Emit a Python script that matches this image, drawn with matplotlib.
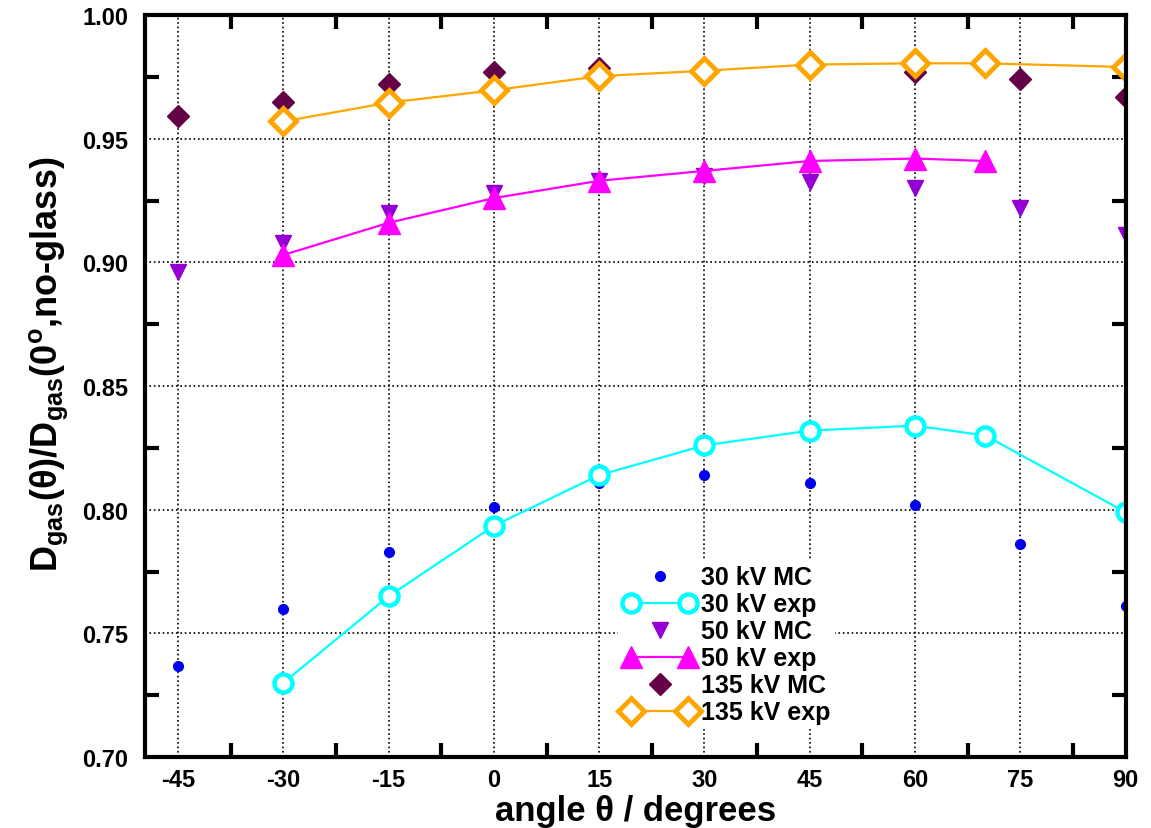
import numpy as np
import matplotlib
matplotlib.use("Agg")
import matplotlib.pyplot as plt
from matplotlib.legend_handler import HandlerLine2D
from matplotlib.ticker import FixedLocator

plt.rcParams['font.family'] = ['Liberation Sans', 'DejaVu Sans']
plt.rcParams['font.weight'] = 'bold'
plt.rcParams['mathtext.fontset'] = 'custom'
plt.rcParams['mathtext.rm'] = 'Liberation Sans:bold'
plt.rcParams['mathtext.it'] = 'Liberation Sans:bold'
plt.rcParams['mathtext.bf'] = 'Liberation Sans:bold'

# -----------------------------
# Data
# -----------------------------
ang_mc = [-45, -30, -15, 0, 15, 30, 45, 60, 75, 90]
ang_exp = [-30, -15, 0, 15, 30, 45, 60, 70, 90]
ang_exp50 = [-30, -15, 0, 15, 30, 45, 60, 70]

mc_30 = [0.737, 0.760, 0.783, 0.801, 0.811, 0.814, 0.811, 0.802, 0.786, 0.761]
exp_30 = [0.730, 0.765, 0.7935, 0.814, 0.826, 0.832, 0.834, 0.830, 0.799]

mc_50 = [0.896, 0.908, 0.920, 0.928, 0.933, 0.935, 0.9325, 0.930, 0.922, 0.911]
exp_50 = [0.903, 0.916, 0.926, 0.933, 0.937, 0.941, 0.942, 0.941]

mc_135 = [0.959, 0.965, 0.972, 0.977, 0.9785, 0.978, 0.979, 0.977, 0.974, 0.967]
exp_135 = [0.957, 0.9646, 0.9696, 0.9753, 0.9775, 0.980, 0.9805, 0.9805, 0.979]

xticks = [-45, -30, -15, 0, 15, 30, 45, 60, 75, 90]
yticks = [0.70, 0.75, 0.80, 0.85, 0.90, 0.95, 1.00]

# -----------------------------
# Plot
# -----------------------------
fig = plt.figure(figsize=(11.51, 8.29), dpi=100)
ax = fig.add_axes([0.126, 0.0856, 0.852, 0.895])

ax.plot(ang_mc, mc_30, ls='none', marker='o', ms=7, color='#0000ee',
        label='30 kV MC')
ax.plot(ang_exp, exp_30, '-', color='#00ffff', lw=1.6, marker='o', ms=13,
        mfc='white', mec='#00ffff', mew=3.2, label='30 kV exp')
ax.plot(ang_mc, mc_50, ls='none', marker='v', ms=12, color='#9400d3',
        label='50 kV MC')
ax.plot(ang_exp50, exp_50, '-', color='#ff00ff', lw=1.6, marker='^', ms=16,
        mfc='#ff00ff', mec='#ff00ff', label='50 kV exp')
ax.plot(ang_mc, mc_135, ls='none', marker='D', ms=11, color='#640046',
        label='135 kV MC')
ax.plot(ang_exp, exp_135, '-', color='#ffa500', lw=1.6, marker='D', ms=13,
        mfc='white', mec='#ffa500', mew=3.5, label='135 kV exp')

ax.set_xlim(-49.7, 90)
ax.set_ylim(0.70, 1.00)

ax.set_xticks(xticks)
ax.set_yticks(yticks)
ax.set_xticklabels([str(v) for v in xticks])
ax.set_yticklabels([f"{v:.2f}" for v in yticks])
ax.xaxis.set_minor_locator(FixedLocator(np.arange(-37.5, 90, 15)))
ax.yaxis.set_minor_locator(FixedLocator(np.arange(0.725, 1.0, 0.05)))

ax.tick_params(which='major', length=0, labelsize=17, pad=8)
ax.tick_params(axis='y', which='major', pad=12)
ax.tick_params(which='minor', direction='in', length=10, width=3,
               top=True, right=True)
for s in ax.spines.values():
    s.set_linewidth(3)

ax.grid(True, which='major', ls=':', color='black', lw=1.2)

ax.set_xlabel('angle θ / degrees', fontsize=25, fontweight='bold', labelpad=2)
ax.set_ylabel(r'D$_{\mathbf{gas}}$(θ)/D$_{\mathbf{gas}}$(0$^{\mathbf{o}}$,no-glass)',
              fontsize=26, fontweight='bold')
ax.yaxis.set_label_coords(-0.076, 0.53)

one = HandlerLine2D(numpoints=1)
two = HandlerLine2D(numpoints=2)
handles, labels = ax.get_legend_handles_labels()
hmap = {h: (one if 'MC' in l else two) for h, l in zip(handles, labels)}
leg = ax.legend(handles, labels, handler_map=hmap, loc='upper left',
                bbox_to_anchor=(0.47, 0.282), frameon=True, framealpha=1,
                facecolor='white', edgecolor='none', fontsize=18,
                handlelength=2.9, handletextpad=0.2, labelspacing=0.12,
                borderpad=0.2)

fig.savefig('out.png', dpi=100)
